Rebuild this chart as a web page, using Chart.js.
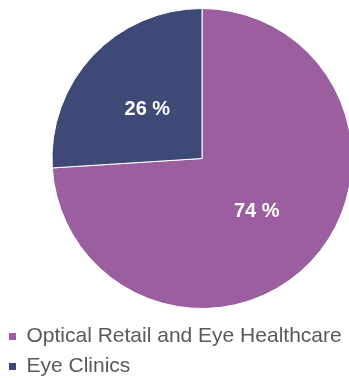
<!DOCTYPE html>
<html>
<head>
<meta charset="utf-8">
<script src="https://cdn.jsdelivr.net/npm/chart.js@4"></script>
<style>
  html, body { margin: 0; padding: 0; background: #fff; overflow: hidden; }
  #wrap { position: relative; width: 404px; height: 387px; }
</style>
</head>
<body>
<div id="wrap"><canvas id="chart"></canvas></div>
<script>
// data
const labels = ["Optical Retail and Eye Healthcare", "Eye Clinics"];
const shares = [74, 26];
const colors = ["#9b5fa0", "#3e4976"];

// white % labels in the middle of each slice
const sliceLabels = {
    id: "sliceLabels",
    afterDatasetsDraw(chart) {
        const ctx = chart.ctx;
        const meta = chart.getDatasetMeta(0);
        ctx.save();
        ctx.fillStyle = "#ffffff";
        ctx.font = "bold 20px 'Liberation Sans', Arial, sans-serif";
        ctx.textAlign = "center";
        ctx.textBaseline = "middle";
        meta.data.forEach((arc, i) => {
            const p = arc.tooltipPosition();
            ctx.fillText(shares[i] + " %", p.x, p.y + 2);
        });
        ctx.restore();
    }
};

Chart.defaults.font.family = "'Liberation Sans', Arial, sans-serif";

const ctx = document.getElementById("chart").getContext("2d");
new Chart(ctx, {
    type: "pie",
    data: {
        labels: labels,
        datasets: [{
            data: shares,
            backgroundColor: colors,
            borderColor: "#ffffff",
            borderWidth: 1
        }]
    },
    options: {
        responsive: true,
        maintainAspectRatio: false,
        animation: false,
        radius: 150,
        layout: { padding: { top: -1 } },
        plugins: {
            tooltip: { enabled: false },
            legend: {
                position: "bottom",
                align: "start",
                labels: {
                    color: "#595959",
                    font: { size: 21 },
                    boxWidth: 7,
                    boxHeight: 7,
                    padding: 9,
                    generateLabels(chart) {
                        const items = Chart.overrides.pie.plugins.legend.labels.generateLabels(chart);
                        items.forEach(it => { it.lineWidth = 0; });
                        return items;
                    }
                }
            }
        }
    },
    plugins: [sliceLabels]
});
</script>
</body>
</html>
